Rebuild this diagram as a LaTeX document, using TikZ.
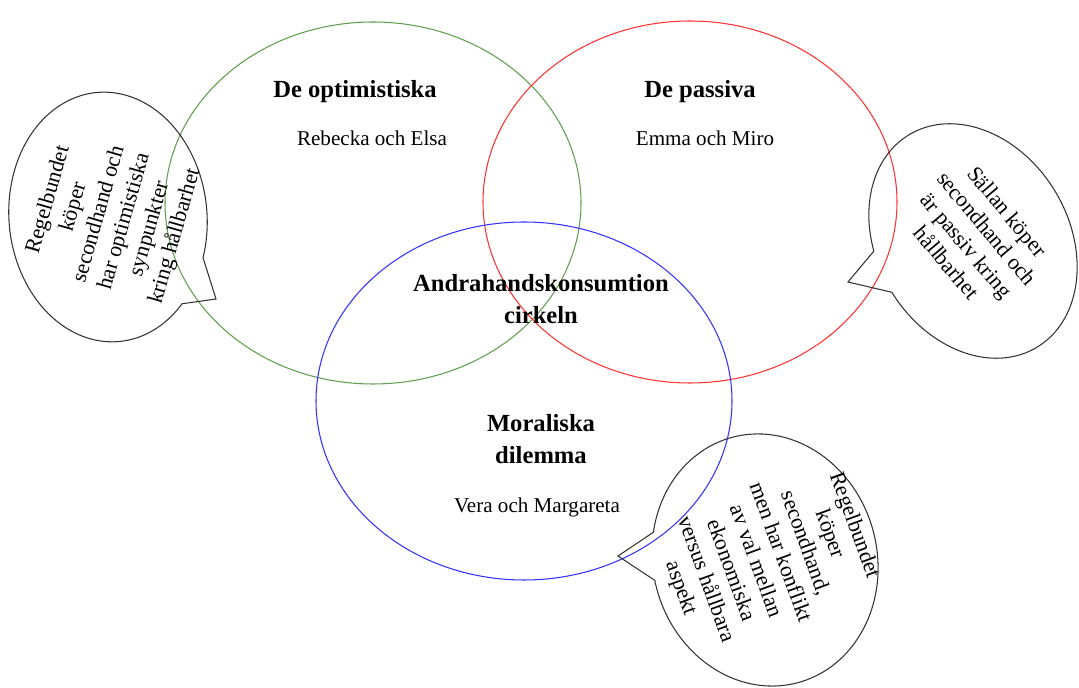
\documentclass[tikz,border=0pt]{standalone}
\usepackage{fontspec}
\setmainfont{Liberation Serif}
\usetikzlibrary{positioning}

\definecolor{optgreen}{RGB}{96,158,78}
\definecolor{pasred}{RGB}{255,50,50}
\definecolor{moralblue}{RGB}{50,50,255}

\begin{document}
\begin{tikzpicture}[
        x=0.02cm, y=0.02cm,
        every node/.style={inner sep=0pt},
        title/.style={font=\fontsize{14}{18}\selectfont\bfseries, align=center},
        names/.style={font=\fontsize{12}{14}\selectfont},
        venn/.style={line width=0.6pt},
        bubble/.style={draw=black!80, line width=0.6pt},
        bubbletext/.style={font=\fontsize{12.5}{15}\selectfont, align=center}
    ]
    \useasboundingbox (0,0) rectangle (1079,-688);

    % Circles -----------------------------------------------
    \draw[venn, optgreen]  (373,-203) ellipse [x radius=208, y radius=181];
    \draw[venn, pasred]    (690,-202) ellipse [x radius=207, y radius=181];
    \draw[venn, moralblue] (524,-401) ellipse [x radius=208, y radius=179];

    % Labels ------------------------------------------------
    \node[title] (opt)  at (355,-92) {De optimistiska};
    \node[names] (optnames) at (372,-138) {Rebecka och Elsa};
    \node[title] (pas)  at (700,-92) {De passiva};
    \node[names] (pasnames) at (705,-138) {Emma och Miro};
    \node[title] (circ) at (541,-299) {Andrahandskonsumtion\\cirkeln};
    \node[title] (moral) at (541,-439) {Moraliska\\dilemma};
    \node[names] (moralnames) at (537,-507) {Vera och Margareta};

    % Speech bubbles ----------------------------------------
    \coordinate (ltip) at (216,-299);
    \coordinate (rtip) at (848,-282);
    \coordinate (btip) at (618,-556);

    \begin{scope}[shift={(108,-217)}, rotate=5]
        \draw[bubble] (-23:99 and 125) arc[start angle=-23, end angle=312, x radius=99, y radius=125] -- (ltip) -- cycle;
    \end{scope}
    \begin{scope}[shift={(973,-241)}, rotate=31]
        \draw[bubble] (181:96 and 124) arc[start angle=181, end angle=520, x radius=96, y radius=124] -- (rtip) -- cycle;
    \end{scope}
    \begin{scope}[shift={(765,-560)}, rotate=15]
        \draw[bubble] (176:112 and 127) arc[start angle=176, end angle=514, x radius=112, y radius=127] -- (btip) -- cycle;
    \end{scope}

    \node[bubbletext, rotate=74] (optbubble) at (112,-218)
        {Regelbundet\\köper\\secondhand och\\har optimistiska\\synpunkter\\kring hållbarhet};
    \node[bubbletext, rotate=-50] (pasbubble) at (977,-237)
        {Sällan köper\\secondhand och\\är passiv kring\\hållbarhet};
    \node[bubbletext, rotate=-70] (moralbubble) at (767,-557)
        {Regelbundet\\köper\\secondhand,\\men har konflikt\\av val mellan\\ekonomiska\\versus hållbara\\aspekt};
\end{tikzpicture}
\end{document}
